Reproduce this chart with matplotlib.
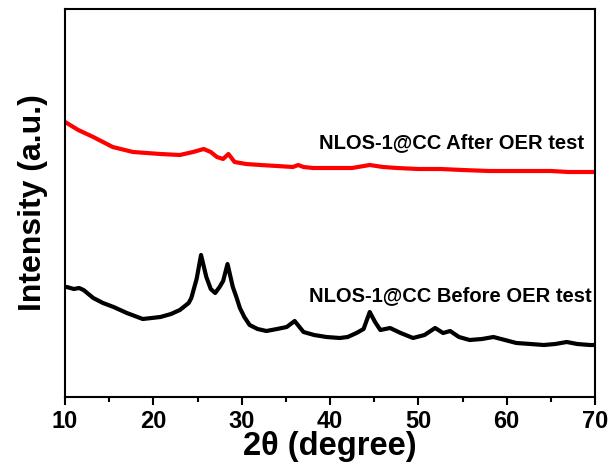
import matplotlib.pyplot as plt
from matplotlib.ticker import MultipleLocator

plt.rcParams['font.family'] = ['Liberation Sans', 'DejaVu Sans']
plt.rcParams['font.weight'] = 'bold'

# 2theta / intensity (arbitrary units)
after_x = [10.0, 10.2, 11.5, 13.2, 15.4, 17.7, 20.8, 23.0, 24.5, 25.7, 26.5, 27.2, 27.9,
           28.5, 29.2, 30.5, 32.1, 34.0, 35.8, 36.4, 37.0, 38.1, 40.0, 40.8, 42.5,
           44.5, 46.0, 47.6, 50.0, 52.5, 55.0, 58.0, 60.0, 62.6, 65.0, 67.0, 69.4, 70.0]
after_y = [275, 274, 267, 260, 250, 245, 243, 242, 245, 248, 245, 240, 238,
           243, 235, 233, 232, 231, 230, 232, 230, 229, 229, 229, 229,
           232, 230, 229, 228, 228, 227, 226, 226, 226, 226, 225, 225, 225]

before_x = [10.0, 10.2, 11.0, 11.6, 12.1, 13.2, 14.3, 15.5, 17.0, 18.8, 20.8, 22.0, 23.0, 24.0,
            24.3, 24.9, 25.4, 26.0, 26.5, 27.0, 27.5, 27.9, 28.4, 29.0, 29.4, 29.8,
            30.3, 30.9, 31.8, 32.8, 34.0, 35.1, 36.0, 37.0, 38.2, 39.6, 41.1, 42.0,
            43.0, 43.8, 44.5, 45.1, 45.7, 46.8, 48.0, 49.4, 50.7, 51.9, 52.8, 53.6,
            54.6, 55.8, 57.2, 58.5, 59.8, 61.1, 62.7, 64.2, 65.5, 66.8, 68.0, 69.4, 70.0]
before_y = [110, 110, 108, 109, 107, 99, 94, 90, 84, 78, 80, 83, 87, 94,
            99, 118, 142, 120, 108, 104, 110, 116, 133, 110, 100, 89,
            80, 72, 68, 66, 68, 70, 76, 65, 62, 60, 59, 60,
            64, 68, 85, 75, 67, 69, 64, 59, 62, 69, 64, 66,
            60, 57, 58, 60, 57, 54, 53, 52, 53, 55, 53, 52, 52]

fig = plt.figure(figsize=(6.1, 4.72), dpi=100)
ax = fig.add_axes([65 / 610, 75 / 472, 530 / 610, 388 / 472])

ax.plot(after_x, after_y, color='#ff0000', lw=3)
ax.plot(before_x, before_y, color='black', lw=3)

ax.text(68.8, 245, 'NLOS-1@CC After OER test', ha='right', va='bottom',
        fontsize=14.5, fontweight='bold')
ax.text(69.6, 92, 'NLOS-1@CC Before OER test', ha='right', va='bottom',
        fontsize=14.5, fontweight='bold')

ax.set_xlim(10, 70)
ax.set_ylim(0, 388)
ax.xaxis.set_major_locator(MultipleLocator(10))
ax.xaxis.set_minor_locator(MultipleLocator(5))
ax.tick_params(axis='x', which='major', direction='out', length=6, width=1.5,
               labelsize=17, pad=3)
ax.tick_params(axis='x', which='minor', direction='out', length=3.5, width=1.5)
ax.set_yticks([])
for lab in ax.get_xticklabels():
    lab.set_fontweight('bold')
for s in ax.spines.values():
    s.set_linewidth(1.5)

ax.set_xlabel('2θ (degree)', fontsize=23.5, fontweight='bold', labelpad=-1)
ax.set_ylabel('Intensity (a.u.)', fontsize=23, fontweight='bold', labelpad=12)

fig.savefig('out.png', dpi=100)
